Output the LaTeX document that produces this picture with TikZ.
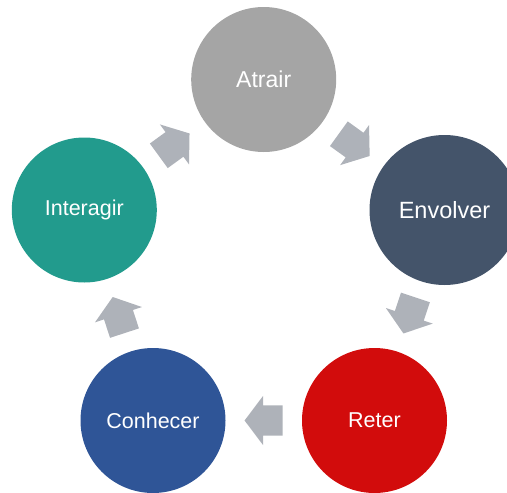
\documentclass[tikz,border=0pt]{standalone}
\usepackage{fontspec}
\setmainfont{Liberation Sans}
\usetikzlibrary{calc,shapes.arrows}

\definecolor{cAttract}{HTML}{A5A5A5}
\definecolor{cEngage}{HTML}{44546A}
\definecolor{cRetain}{HTML}{D20C0C}
\definecolor{cKnow}{HTML}{2F5597}
\definecolor{cInteract}{HTML}{229B8D}
\definecolor{cFlow}{HTML}{AEB2B9}

\tikzset{
  stage/.style={circle, inner sep=0pt, minimum size=145pt, text=white, font=\fontsize{21.5}{24}\selectfont},
  flow/.style={single arrow, fill=cFlow, draw=none, inner sep=0pt,
    text width=0pt, text height=15pt, text depth=15pt,
    minimum height=38pt, minimum width=49pt, single arrow head extend=9.5pt,
    single arrow head indent=0pt, single arrow tip angle=106},
}

% block arrow centred halfway between two stages, pointing from the first to the second
\newcommand{\flowarrow}[3]{%
  \path let \p1=($(#3)-(#2)$), \n1={atan2(\y1,\x1)} in
    node[flow, rotate=\n1, anchor=tail] (#1) at ($(#2)!0.5!(#3)!19pt!(#2)$) {};
}

\begin{document}
\begin{tikzpicture}[x=1pt, y=-1pt]
  \useasboundingbox (0,0) rectangle (507,493);

  \node[stage, fill=cAttract, font=\fontsize{23}{26}\selectfont] (atrair) at (263.7,79.5) {Atrair};
  \node[stage, fill=cEngage, minimum size=150pt, font=\fontsize{23.5}{26}\selectfont] (envolver) at (444.5,210) {Envolver};
  \node[stage, fill=cRetain] (reter) at (374.5,420.5) {Reter};
  \node[stage, fill=cKnow] (conhecer) at (153,420.5) {Conhecer};
  \node[stage, fill=cInteract] (interagir) at (84.3,210) {Interagir};

  \flowarrow{a1}{atrair}{envolver}
  \flowarrow{a2}{envolver}{reter}
  \flowarrow{a3}{reter}{conhecer}
  \flowarrow{a4}{conhecer}{interagir}
  \flowarrow{a5}{interagir}{atrair}
\end{tikzpicture}
\end{document}
